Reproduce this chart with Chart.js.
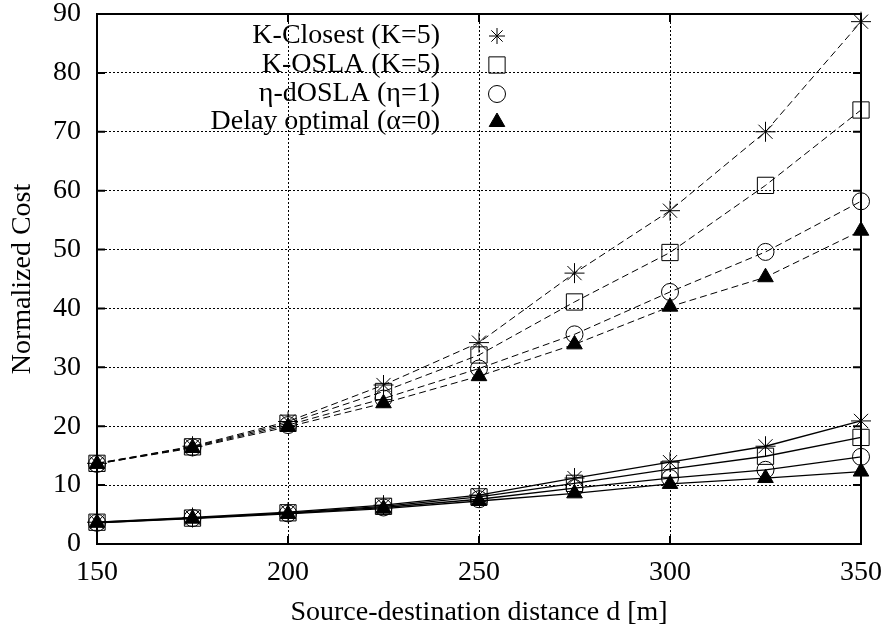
<!DOCTYPE html>
<html>
<head>
<meta charset="utf-8">
<title>Normalized Cost</title>
<script src="https://cdn.jsdelivr.net/npm/chart.js@4.4.1/dist/chart.umd.min.js"></script>
<style>
  html, body { margin: 0; padding: 0; background: #fff; }
  #wrap { width: 890px; height: 635px; }
</style>
</head>
<body>
<div id="wrap"><canvas id="cost"></canvas></div>
<script>
// Distances on the x axis [m]
const distances = [150, 175, 200, 225, 250, 275, 300, 325, 350];

// Upper group (dashed lines)
const kClosestUpper = [13.7, 16.6, 20.8, 27.0, 34.2, 46.0, 56.6, 70.0, 88.7];
const kOslaUpper    = [13.7, 16.5, 20.5, 25.9, 32.1, 41.1, 49.5, 60.9, 73.7];
const etaUpper      = [13.6, 16.4, 20.2, 24.7, 29.8, 35.6, 42.8, 49.6, 58.2];
const delayUpper    = [13.6, 16.3, 19.9, 23.9, 28.5, 33.9, 40.3, 45.3, 53.2];

// Lower group (solid lines)
const kClosestLower = [3.7, 4.5, 5.4, 6.6, 8.3, 11.2, 13.9, 16.6, 20.9];
const kOslaLower    = [3.7, 4.4, 5.3, 6.4, 8.0, 10.3, 12.7, 14.9, 18.1];
const etaLower      = [3.6, 4.4, 5.2, 6.2, 7.6, 9.5, 11.2, 12.6, 14.8];
const delayLower    = [3.6, 4.3, 5.1, 6.0, 7.3, 8.6, 10.2, 11.2, 12.3];

const legendLabels = ['K-Closest (K=5)', 'K-OSLA (K=5)', 'η-dOSLA (η=1)', 'Delay optimal (α=0)'];

const FONT = '"Liberation Serif", "DejaVu Serif", serif';

// marker style per algorithm
const markers = [
    { pointStyle: 'star', pointRadius: 10, fill: 'transparent', order: 3 },
    { pointStyle: 'rect', pointRadius: 11.5, fill: 'transparent', order: 2 },
    { pointStyle: 'circle', pointRadius: 8.5, fill: 'transparent', order: 1 },
    { pointStyle: 'triangle', pointRadius: 9, fill: '#000', order: 0 }
];

function toPoints(values) {
    return distances.map((d, i) => ({ x: d, y: values[i] }));
}

function makeDataset(values, markerIdx, dashed) {
    const m = markers[markerIdx];
    return {
        data: toPoints(values),
        borderColor: '#000',
        borderWidth: dashed ? 1 : 1.3,
        borderDash: dashed ? [7, 4] : [],
        tension: 0,
        pointStyle: m.pointStyle,
        pointRadius: m.pointRadius,
        pointHoverRadius: m.pointRadius,
        pointBorderColor: '#000',
        pointBackgroundColor: m.fill,
        pointBorderWidth: 1,
        order: m.order,
        clip: false
    };
}

const datasets = [
    makeDataset(kClosestUpper, 0, true),
    makeDataset(kOslaUpper, 1, true),
    makeDataset(etaUpper, 2, true),
    makeDataset(delayUpper, 3, true),
    makeDataset(kClosestLower, 0, false),
    makeDataset(kOslaLower, 1, false),
    makeDataset(etaLower, 2, false),
    makeDataset(delayLower, 3, false)
];

// Frame with inward tick marks on all four sides
const framePlugin = {
    id: 'frame',
    beforeDatasetsDraw(chart) {
        const { ctx, chartArea: a, scales } = chart;
        const len = 8;
        ctx.save();
        ctx.strokeStyle = '#000';
        ctx.lineWidth = 2;
        ctx.beginPath();
        scales.x.ticks.forEach(t => {
            const px = scales.x.getPixelForValue(t.value);
            ctx.moveTo(px, a.bottom); ctx.lineTo(px, a.bottom - len);
            ctx.moveTo(px, a.top); ctx.lineTo(px, a.top + len);
        });
        scales.y.ticks.forEach(t => {
            const py = scales.y.getPixelForValue(t.value);
            ctx.moveTo(a.left, py); ctx.lineTo(a.left + len, py);
            ctx.moveTo(a.right, py); ctx.lineTo(a.right - len, py);
        });
        ctx.stroke();
        ctx.strokeRect(a.left, a.top, a.right - a.left, a.bottom - a.top);
        ctx.restore();
    }
};

// Key in the top left: right-aligned text, marker to its right
const keyPlugin = {
    id: 'key',
    afterDatasetsDraw(chart) {
        const { ctx } = chart;
        const textRight = 440;
        const markX = 497;
        const rows = [36, 65, 94, 122];
        ctx.save();
        ctx.font = '28px ' + FONT;
        ctx.textAlign = 'right';
        ctx.textBaseline = 'middle';
        legendLabels.forEach((label, i) => {
            ctx.fillStyle = '#000';
            ctx.fillText(label, textRight, rows[i]);
            const m = markers[i];
            ctx.strokeStyle = '#000';
            ctx.fillStyle = m.fill;
            ctx.lineWidth = 1;
            ctx.setLineDash([]);
            Chart.helpers.drawPoint(ctx, {
                pointStyle: m.pointStyle,
                radius: i === 0 ? 8 : m.pointRadius,
                rotation: 0,
                borderWidth: 1
            }, markX, rows[i]);
        });
        ctx.restore();
    }
};

const ctx = document.getElementById('cost').getContext('2d');
new Chart(ctx, {
    type: 'line',
    data: { datasets },
    options: {
        responsive: true,
        maintainAspectRatio: false,
        animation: false,
        events: [],
        layout: { padding: { left: 0, right: 29, top: 14, bottom: 0 } },
        plugins: {
            legend: { display: false },
            tooltip: { enabled: false }
        },
        scales: {
            x: {
                type: 'linear',
                min: 150,
                max: 350,
                afterFit: (s) => {
                    s.height = 91;
                    s.paddingLeft = 0;
                    s.paddingRight = 0;
                },
                ticks: {
                    stepSize: 50,
                    color: '#000',
                    padding: 15,
                    font: { family: FONT, size: 28, lineHeight: 1 }
                },
                grid: { color: '#000', lineWidth: 1, drawTicks: false },
                border: { display: false, dash: [2, 2] },
                title: {
                    display: true,
                    text: 'Source-destination distance d [m]',
                    color: '#000',
                    font: { family: FONT, size: 28, lineHeight: 1.2 },
                    padding: { top: 0, bottom: 6 }
                }
            },
            y: {
                min: 0,
                max: 90,
                afterFit: (s) => {
                    s.width = 97;
                    s.paddingTop = 0;
                    s.paddingBottom = 0;
                },
                ticks: {
                    stepSize: 10,
                    color: '#000',
                    padding: 16,
                    font: { family: FONT, size: 28, lineHeight: 1 }
                },
                grid: { color: '#000', lineWidth: 1, drawTicks: false },
                border: { display: false, dash: [2, 2] },
                title: {
                    display: true,
                    text: 'Normalized Cost',
                    color: '#000',
                    font: { family: FONT, size: 28, lineHeight: 1.2 },
                    padding: { top: 6, bottom: 0 }
                }
            }
        }
    },
    plugins: [framePlugin, keyPlugin]
});
</script>
</body>
</html>
